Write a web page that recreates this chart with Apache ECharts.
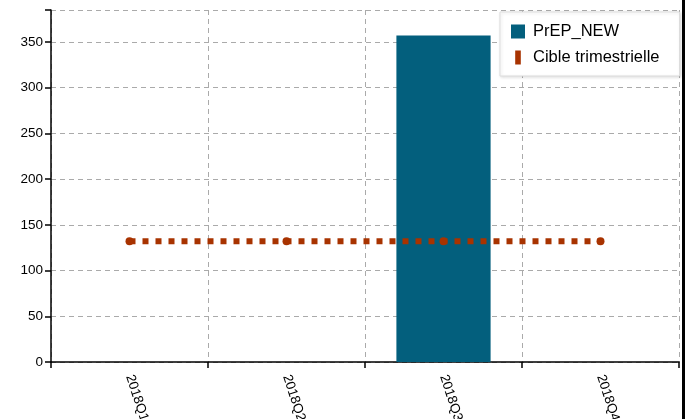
<!DOCTYPE html>
<html><head><meta charset="utf-8">
<script src="https://cdn.jsdelivr.net/npm/echarts@6/dist/echarts.min.js"></script>
<style>html,body{margin:0;padding:0;background:#fff}#c{width:685px;height:419px}</style>
</head><body><div id="c"></div>
<script>
const categories = ['2018Q1', '2018Q2', '2018Q3', '2018Q4'];
const prepNew = [null, null, 357, null];
const cibleTrimestrielle = [132, 132, 132, 132];
const yTicks = [0, 50, 100, 150, 200, 250, 300, 350];

const chart = echarts.init(document.getElementById('c'), null, {renderer: 'canvas'});
const font = 'Liberation Sans, Arial, sans-serif';
chart.setOption({
  animation: false,
  backgroundColor: '#fff',
  grid: {left: 51, right: 6, top: 10, bottom: 57, containLabel: false, outerBoundsMode: 'none'},
  graphic: [{type: 'rect', right: 0, top: 0, z: 100,
    shape: {width: 3, height: 419}, style: {fill: '#000'}}],
  legend: {
    orient: 'vertical', left: 500, top: 12,
    padding: [11, 20, 10, 11], itemGap: 9,
    itemWidth: 14, itemHeight: 14,
    backgroundColor: '#fff', borderColor: '#ddd', borderWidth: 1,
    shadowColor: 'rgba(0,0,0,0.12)', shadowBlur: 3, shadowOffsetX: 1, shadowOffsetY: 1,
    textStyle: {fontFamily: font, fontSize: 16.5, color: '#000', padding: [0, 0, 0, 3]},
    data: [
      {name: 'PrEP_NEW', icon: 'rect'},
      {name: 'Cible trimestrielle', icon: 'path://M0,0 L0.01,0 L0.01,0.01 Z M4,0 L10,0 L10,15 L4,15 Z M14,15 L13.99,15 L13.99,14.99 Z'}
    ]
  },
  xAxis: {
    type: 'category', data: categories,
    axisLine: {lineStyle: {color: '#000', width: 1.5}},
    axisTick: {show: true, length: 6, lineStyle: {color: '#000', width: 1.5}},
    axisLabel: {rotate: -72, color: '#000', fontFamily: font, fontSize: 13.5, margin: 13},
    splitLine: {show: true, lineStyle: {color: '#aaa', type: [5, 4], width: 1}}
  },
  yAxis: {
    type: 'value', min: 0, max: 385, interval: 50,
    axisLine: {show: true, lineStyle: {color: '#000', width: 1.5}},
    axisTick: {show: true, length: 6, lineStyle: {color: '#000', width: 1.5}},
    axisLabel: {color: '#000', fontFamily: font, fontSize: 13.5, margin: 8,
      formatter: v => yTicks.includes(v) ? String(v) : ''},
    splitLine: {show: true, lineStyle: {color: '#aaa', type: [5, 4], width: 1}}
  },
  series: [
    {name: 'PrEP_NEW', type: 'bar', data: prepNew, barWidth: '60%',
      itemStyle: {color: '#035f7d'}},
    {name: 'Cible trimestrielle', type: 'line', data: cibleTrimestrielle,
      symbol: 'circle', symbolSize: 8,
      itemStyle: {color: '#a83300'},
      lineStyle: {color: '#a83300', width: 6, type: [6, 7]}}
  ]
});
</script></body></html>
